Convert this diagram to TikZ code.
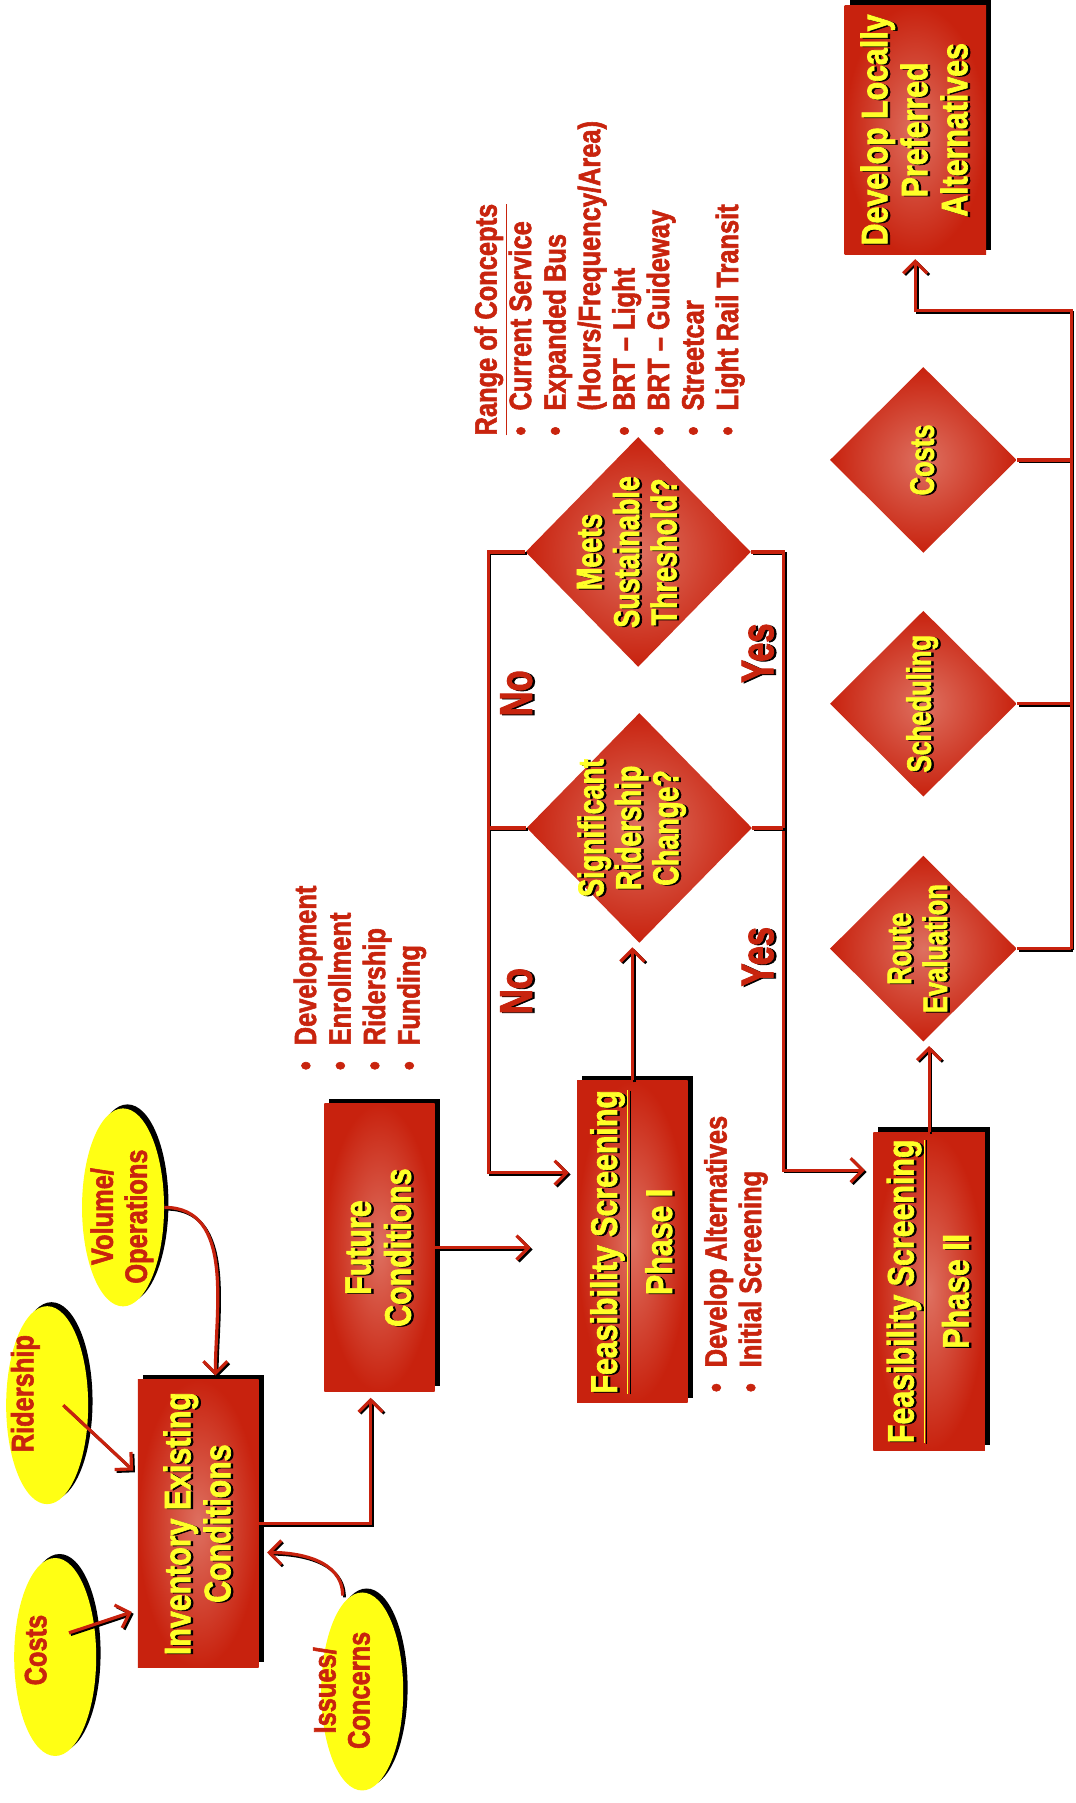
\documentclass[tikz,border=0pt]{standalone}
\usepackage{fontspec}
\setmainfont{Liberation Sans}[FakeStretch=0.82, BoldFeatures={FakeBold=1.8}]
\newfontfamily\midfont{Liberation Sans}[FakeStretch=0.75, BoldFeatures={FakeBold=1.8}]
\usetikzlibrary{arrows.meta, positioning, shapes.geometric, calc, shadows}

\definecolor{boxred}{RGB}{200,34,14}
\definecolor{boxlight}{RGB}{222,112,96}
\definecolor{txtred}{RGB}{200,36,14}
\definecolor{txtyellow}{RGB}{255,255,40}
\definecolor{blobyellow}{RGB}{255,255,20}

% yellow/red text with a black copy behind it
\newcommand{\shd}[1]{\leavevmode\rlap{\kern-0.4pt\raisebox{-1.2pt}{\color{black}#1}}#1}

\begin{document}
\begin{tikzpicture}[x=0.575pt, y=0.575pt,
  blob/.style={ellipse, rotate=90, fill=blobyellow, minimum width=99pt, minimum height=41pt, inner sep=0pt,
    drop shadow={shadow xshift=2.2pt, shadow yshift=2pt, opacity=1, fill=black}},
  blobtext/.style={rotate=90, text=txtred, align=center, inner sep=0pt, font=\fontsize{15.5}{17}\selectfont\bfseries},
  box/.style={rectangle, rotate=90, inner color=boxlight, outer color=boxred, text=txtyellow, align=center, inner sep=2pt,
    font=\fontsize{18.5}{20}\selectfont\bfseries,
    drop shadow={shadow xshift=2.5pt, shadow yshift=2.5pt, opacity=1, fill=black}},
  decide/.style={diamond, rotate=90, inner color=boxlight, outer color=boxred, text=txtyellow, align=center, inner sep=-8pt,
    font=\midfont\fontsize{18}{18.7}\selectfont\bfseries},
  smalldecide/.style={decide, minimum width=93pt, minimum height=93.5pt, font=\midfont\fontsize{17}{18}\selectfont\bfseries},
  note/.style={rotate=90, text=txtred, align=left, anchor=west, inner sep=0pt, font=\fontsize{15.5}{17.25}\selectfont\bfseries},
  yesno/.style={rotate=90, text=txtred, inner sep=0pt, font=\midfont\fontsize{23}{23}\selectfont\bfseries},
  conn/.style={draw=boxred, line width=1.6pt,
    preaction={draw=black, line width=1.4pt, transform canvas={shift={(0.9pt,-0.9pt)}}}},
  arr/.style={conn, -{Straight Barb[length=6pt, width=12pt]}}
]
  \useasboundingbox (0,0) rectangle (935,-1568);

  % Inputs to the inventory
  \node[blob] (costs) at (48,-1441) {};
  \node[blob] (rid) at (41,-1222) {};
  \node[blob] (vol) at (107,-1050) {};
  \node[blob] (iss) at (315,-1471) {};
  \node[blobtext] (costst) at (31,-1435) {Costs};
  \node[blobtext] (ridt) at (22,-1212) {Ridership};
  \node[blobtext] (volt) at (106,-1058) {Volume/\\Operations};
  \node[blobtext] (isst) at (297,-1470) {Issues/\\Concerns};

  % Process boxes
  \node[box, minimum width=143.75pt, minimum height=60.4pt] (inv) at (172.5,-1325) {\shd{Inventory Existing}\\\shd{Conditions}};
  \node[box, minimum width=143.75pt, minimum height=55.2pt] (fut) at (330,-1085) {\shd{Future}\\\shd{Conditions}};
  \node[box, minimum width=161pt, minimum height=55.2pt] (ph1) at (550,-1080) {\shd{\underline{Feasibility Screening}}\\[6pt]\shd{Phase I}};
  \node[box, minimum width=159pt, minimum height=55.8pt] (ph2) at (808,-1123) {\shd{\underline{Feasibility Screening}}\\[6pt]\shd{Phase II}};
  \node[box, minimum width=124.8pt, minimum height=70.7pt] (lpa) at (796,-113) {\shd{Develop Locally}\\\shd{Preferred}\\\shd{Alternatives}};

  % Decisions
  \node[decide, minimum width=115pt, minimum height=112.7pt] (meets) at (555,-480) {\shd{Meets}\\\shd{Sustainable}\\\shd{Threshold?}\\[-7.2pt]\mbox{}};
  \node[decide, minimum width=115pt, minimum height=112.7pt] (sig) at (556,-720) {\shd{Significant}\\\shd{Ridership}\\\shd{Change?}\\[-7.2pt]\mbox{}};
  \node[smalldecide] (dcost) at (803,-400) {\shd{Costs}};
  \node[smalldecide] (sched) at (803,-612) {\shd{Scheduling}};
  \node[smalldecide] (route) at (803,-825) {\shd{Route}\\\shd{Evaluation}\\[-12pt]\mbox{}};

  % Notes
  \node[note] (futlist) at (313,-931) {\textbullet\hspace{8pt}Development\\\textbullet\hspace{8pt}Enrollment\\\textbullet\hspace{8pt}Ridership\\\textbullet\hspace{8pt}Funding};
  \node[note] (ph1list) at (640,-1211) {\textbullet\hspace{8pt}Develop Alternatives\\\textbullet\hspace{8pt}Initial Screening};
  \node[note] (range) at (530,-379) {\underline{Range of Concepts}\\
    \textbullet\hspace{8pt}Current Service\\
    \textbullet\hspace{8pt}Expanded Bus\\
    \phantom{\textbullet}\hspace{8pt}(Hours/Frequency/Area)\\
    \textbullet\hspace{8pt}BRT -- Light\\
    \textbullet\hspace{8pt}BRT -- Guideway\\
    \textbullet\hspace{8pt}Streetcar\\
    \textbullet\hspace{8pt}Light Rail Transit};

  % Yes / No labels
  \node[yesno] (no1) at (450,-603) {\shd{No}};
  \node[yesno] (no2) at (450,-862) {\shd{No}};
  \node[yesno] (yes1) at (660,-568) {\shd{Yes}};
  \node[yesno] (yes2) at (660,-832) {\shd{Yes}};

  % Arrows into the inventory
  \draw[arr, shorten >=3pt] ($(costs.center)+(12,21)$) -- ($(inv.north west)!0.2!(inv.north east)$);
  \draw[arr, shorten >=3pt] ($(rid.center)+(14,0)$) -- ($(inv.north west)!0.67!(inv.north east)$);
  \draw[arr, shorten >=2pt] (vol.south) to[out=0, in=90] ($(inv.north east)!0.64!(inv.south east)$);
  \draw[arr, shorten >=4pt] ($(iss.east)+(-17,-3)$) to[out=90, in=0] ($(inv.south west)!0.4!(inv.south east)$);

  % Main flow
  \draw[arr, shorten >=3pt] (inv.south) -| ($(fut.north west)!0.42!(fut.south west)$);
  \draw[arr, shorten >=23pt] (fut.south) -- (fut.south -| ph1.north);
  \draw[arr, shorten >=2pt] (ph1.east) -- (ph1.east |- sig.west);

  % No branch back to phase I
  \draw[arr, shorten >=4pt] (meets.north) -- ++(-32,0) coordinate (nocol) |- ($(ph1.north west)!0.714!(ph1.north east)$);
  \draw[conn] (sig.north) -- (sig.north -| nocol);

  % Yes branch on to phase II
  \draw[arr, shorten >=4pt] (meets.south) -- ++(28,0) coordinate (yescol) |- ($(ph2.north west)!0.88!(ph2.north east)$);
  \draw[conn] (sig.south) -- (sig.south -| yescol);

  % Phase II checks
  \draw[arr, shorten >=2pt] (ph2.east) -- (ph2.east |- route.west);
  \draw[conn] (route.south) -- ++(47,0) coordinate (endcol);
  \foreach \d in {sched, dcost} {
    \draw[conn] (\d.south) -- (\d.south -| endcol);
  }
  \draw[arr, shorten >=2pt] (endcol) -- ++(0,555) -| (lpa.west);
\end{tikzpicture}
\end{document}
